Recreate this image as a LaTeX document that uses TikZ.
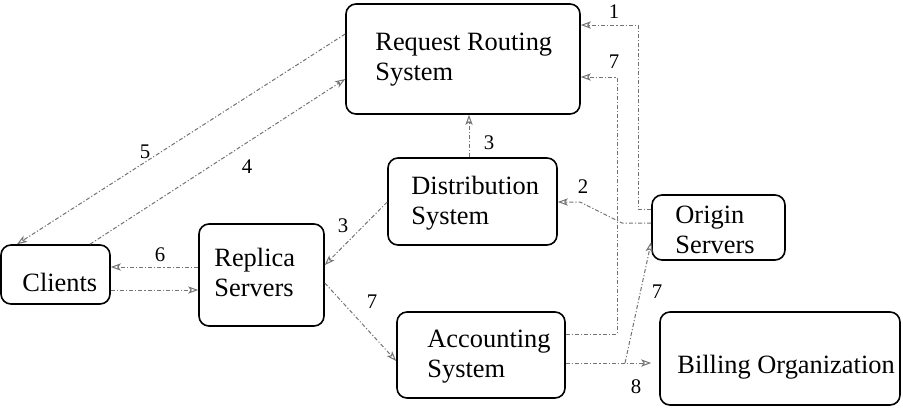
\documentclass[tikz,border=0pt]{standalone}
\usepackage{fontspec}
\setmainfont{Liberation Serif}
\usetikzlibrary{arrows.meta}
\tikzset{
  box/.style={draw=black, line width=0.8pt, rounded corners=5pt, inner sep=0pt},
  txt/.style={font=\fontsize{13.2}{15}\selectfont, align=left, inner sep=0pt},
  lbl/.style={font=\fontsize{10.4}{12}\selectfont, inner sep=0pt},
  conn/.style={draw=black!55, line width=0.5pt, dash pattern=on 2pt off 1pt on 0.6pt off 1pt,
     -{Stealth[open, length=5pt, width=3.6pt, inset=1.2pt]}},
}
\begin{document}
\begin{tikzpicture}[x=0.5pt, y=-0.5pt]
\useasboundingbox (0,0) rectangle (903,408);
% boxes
\node[box, minimum width=117pt, minimum height=55pt] (rr) at (463,59) {};
\node[box, minimum width=84.5pt, minimum height=43.5pt] (ds) at (472.5,201.5) {};
\node[box, minimum width=66.5pt, minimum height=32.5pt] (os) at (718.5,227.5) {};
\node[box, minimum width=54.5pt, minimum height=29.5pt] (cl) at (55.5,274.5) {};
\node[box, minimum width=62.5pt, minimum height=51pt] (rp) at (261.5,275) {};
\node[box, minimum width=84pt, minimum height=43pt] (ac) at (481,355) {};
\node[box, minimum width=120pt, minimum height=46.5pt] (bo) at (780,358.5) {};
% texts (base anchor = baseline of last line)
\node[txt, anchor=base west] (trr) at (375,80) {Request Routing\\System};
\node[txt, anchor=base west] (tds) at (411,224) {Distribution\\System};
\node[txt, anchor=base west] (tos) at (675,253) {Origin\\Servers};
\node[txt, anchor=base west] (tcl) at (22,291) {Clients};
\node[txt, anchor=base west] (trp) at (214,296) {Replica\\Servers};
\node[txt, anchor=base west] (tac) at (427,377) {Accounting\\System};
\node[txt, anchor=base west] (tbo) at (677,373) {Billing Organization};
% connectors
\draw[conn] (os.west |- 0,209) -| (638,25) -- (rr.east |- 0,25);
\draw[conn] (ac.east |- 0,334) -| (617,77) -- (rr.east |- 0,77);
\draw[conn] (os.west |- 0,223) -- (622,223) -- (580,202) -- (ds.east |- 0,202);
\draw[conn] (ds.north -| 469,0) -- (rr.south -| 469,0);
\draw[conn] (ds.west |- 0,202) -- (rp.east |- 0,265);
\draw[conn] (rr.west |- 0,34) -- (cl.north -| 17,0);
\draw[conn] (cl.north -| 90,0) -- (rr.west |- 0,79);
\draw[conn] (rp.west |- 0,267) -- (cl.east |- 0,267);
\draw[conn] (cl.east |- 0,290) -- (rp.west |- 0,290);
\draw[conn] (rp.east |- 0,283) -- (ac.west |- 0,361);
\coordinate (j) at (625,363);
\draw[conn, shorten >=4pt] (ac.east |- 0,363) -- (j) -- (bo.west |- 0,363);
\draw[conn] (j) -- (os.west |- 0,242);
% labels
\node[lbl] (l1) at (614,12) {1};
\node[lbl] (l7a) at (614,62) {7};
\node[lbl] (l2) at (583,187) {2};
\node[lbl] (l3a) at (489,143) {3};
\node[lbl] (l3b) at (343,226) {3};
\node[lbl] (l5) at (145,152) {5};
\node[lbl] (l4) at (247,167) {4};
\node[lbl] (l6) at (160,255) {6};
\node[lbl] (l7b) at (372,302) {7};
\node[lbl] (l8) at (636,387) {8};
\node[lbl] (l7c) at (657,292) {7};
\end{tikzpicture}
\end{document}
